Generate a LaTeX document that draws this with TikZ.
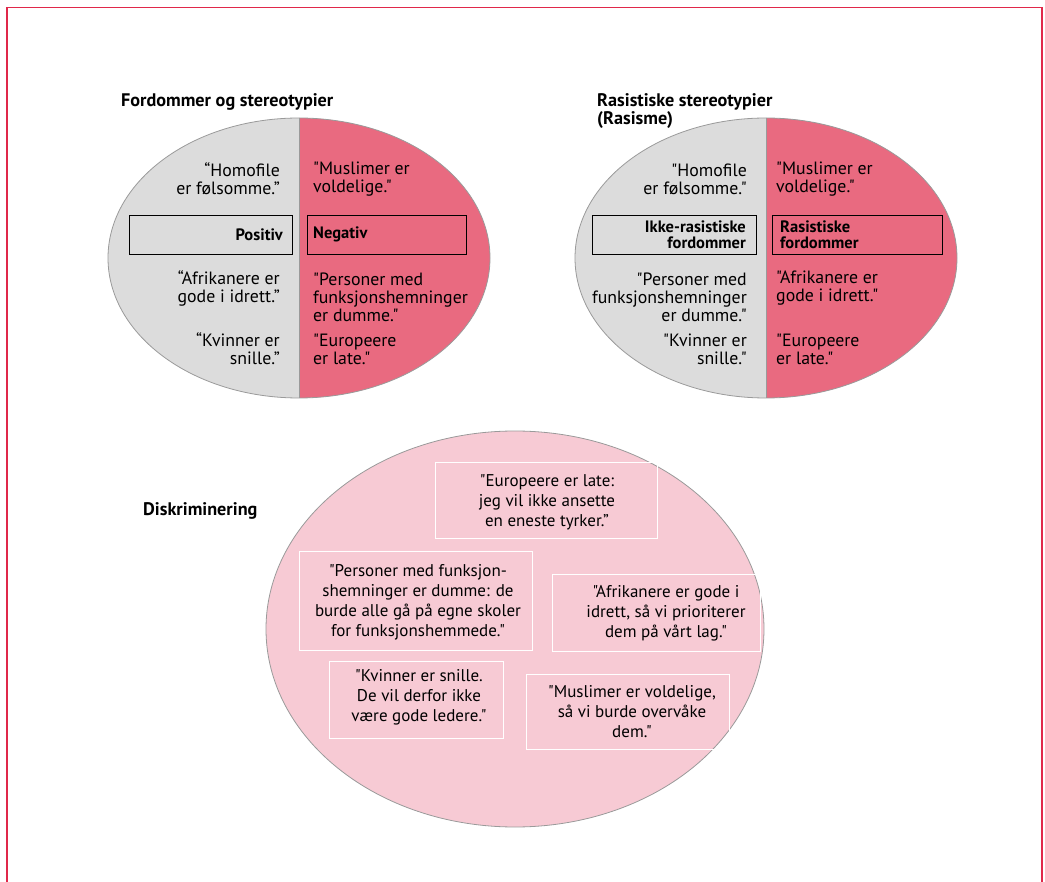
\documentclass[tikz,border=0pt]{standalone}
\usepackage{fontspec}
\setmainfont{PT Sans}[Ligatures=TeXOff]
\usetikzlibrary{shapes.geometric}
\definecolor{frame}{HTML}{E0284A}
\definecolor{lgray}{HTML}{DCDCDC}
\definecolor{rose}{HTML}{E96A80}
\definecolor{pale}{HTML}{F7CAD4}
\definecolor{edge}{HTML}{9A9A9A}
\tikzset{
  quote/.style={inner sep=0pt, font=\fontsize{17.8}{18}\selectfont},
  qleft/.style={quote, anchor=east, align=right},
  qright/.style={quote, anchor=west, align=left},
  title/.style={inner sep=0pt, anchor=west, align=left, font=\fontsize{18.2}{18}\selectfont\bfseries},
  catbox/.style={draw=black, line width=0.9pt, minimum height=39pt, inner sep=0pt},
  cattext/.style={inner sep=0pt, font=\fontsize{16.5}{16}\selectfont\bfseries},
  discbox/.style={draw=white, line width=1pt, inner sep=0pt},
  disctext/.style={inner sep=0pt, align=center, font=\fontsize{17}{20}\selectfont},
  bigell/.style={ellipse, draw=edge, line width=0.8pt, inner sep=0pt},
}
\begin{document}
\begin{tikzpicture}[x=1pt,y=-1pt]
\useasboundingbox (0,0) rectangle (1045,882);
% frame
\draw[frame, line width=1.5pt] (7,882) -- (7,7.5) -- (1042,7.5) -- (1042,882);

% titles
\node[title] (t1) at (121,102) {Fordommer og stereotypier};
\node[title] (t2) at (597,111) {Rasistiske stereotypier\\(Rasisme)};
\node[title] (t3) at (143,511) {Diskriminering};

% ellipse 1
\fill[rose] (299,118) arc[start angle=-90,end angle=90,x radius=191,y radius=140] -- cycle;
\fill[lgray] (299,118) arc[start angle=270,end angle=90,x radius=191,y radius=140] -- cycle;
\node[bigell, minimum width=382pt, minimum height=280pt] (e1) at (299,258) {};
\draw[edge, line width=0.5pt] (e1.north) -- (e1.south);

% ellipse 2
\fill[rose] (766,118) arc[start angle=-90,end angle=90,x radius=191,y radius=140] -- cycle;
\fill[lgray] (766,118) arc[start angle=270,end angle=90,x radius=191,y radius=140] -- cycle;
\node[bigell, minimum width=382pt, minimum height=280pt] (e2) at (766,258) {};
\draw[edge, line width=0.5pt] (e2.north) -- (e2.south);

% boxes ellipse 1
\node[catbox, minimum width=163pt] (b1) at (210.5,234.5) {};
\node[cattext, anchor=east] (b1t) at (283,234.5) {Positiv};
\node[catbox, minimum width=159pt] (b2) at (386.5,234.5) {};
\node[cattext, anchor=west] (b2t) at (313,234.5) {Negativ};

% boxes ellipse 2
\node[catbox, minimum width=164pt] (b3) at (674,234.5) {};
\node[cattext, anchor=east, align=right] (b3t) at (746,234.5) {Ikke-rasistiske\\fordommer};
\node[catbox, minimum width=170pt] (b4) at (857,234.5) {};
\node[cattext, anchor=west, align=left] (b4t) at (780,234.5) {Rasistiske\\fordommer};

% texts ellipse 1
\node[qleft] (q11) at (280,179) {“Homofile\\er følsomme.”};
\node[qleft] (q12) at (280,288) {“Afrikanere er\\gode i idrett.”};
\node[qleft] (q13) at (280,349) {“Kvinner er\\snille.”};
\node[qright] (q14) at (313,179) {"Muslimer er\\voldelige."};
\node[qright] (q15) at (313,297) {"Personer med\\funksjonshemninger\\er dumme."};
\node[qright] (q16) at (313,349) {"Europeere\\er late."};

% texts ellipse 2
\node[qleft] (q21) at (747,179) {"Homofile\\er følsomme."};
\node[qleft] (q22) at (747,297) {"Personer med\\funksjonshemninger\\er dumme."};
\node[qleft] (q23) at (747,349) {"Kvinner er\\snille."};
\node[qright] (q24) at (776,179) {"Muslimer er\\voldelige."};
\node[qright] (q25) at (776,288) {"Afrikanere er\\gode i idrett."};
\node[qright] (q26) at (776,349) {"Europeere\\er late."};

% discrimination ellipse
\node[bigell, fill=pale, minimum width=498pt, minimum height=396pt] (e3) at (515,629) {};

\node[discbox, minimum width=222pt, minimum height=76pt] (d1) at (546,501) {};
\node[disctext] (d1t) at (547,502) {"Europeere er late:\\jeg vil ikke ansette\\en eneste tyrker.”};
\node[discbox, minimum width=233pt, minimum height=98pt] (d2) at (415.5,601) {};
\node[disctext] (d2t) at (418,602) {"Personer med funksjon-\\shemninger er dumme: de\\burde alle gå på egne skoler\\for funksjonshemmede."};
\node[discbox, minimum width=208pt, minimum height=77pt] (d3) at (656,612.5) {};
\node[disctext] (d3t) at (666,613) {"Afrikanere er gode i\\idrett, så vi prioriterer\\dem på vårt lag."};
\node[discbox, minimum width=174pt, minimum height=77pt] (d4) at (416,699.5) {};
\node[disctext] (d4t) at (419,697) {"Kvinner er snille.\\De vil derfor ikke\\være gode ledere."};
\node[discbox, minimum width=203pt, minimum height=75pt] (d5) at (627.5,711.5) {};
\node[disctext] (d5t) at (632,712) {"Muslimer er voldelige,\\så vi burde overvåke\\dem."};
\end{tikzpicture}
\end{document}
